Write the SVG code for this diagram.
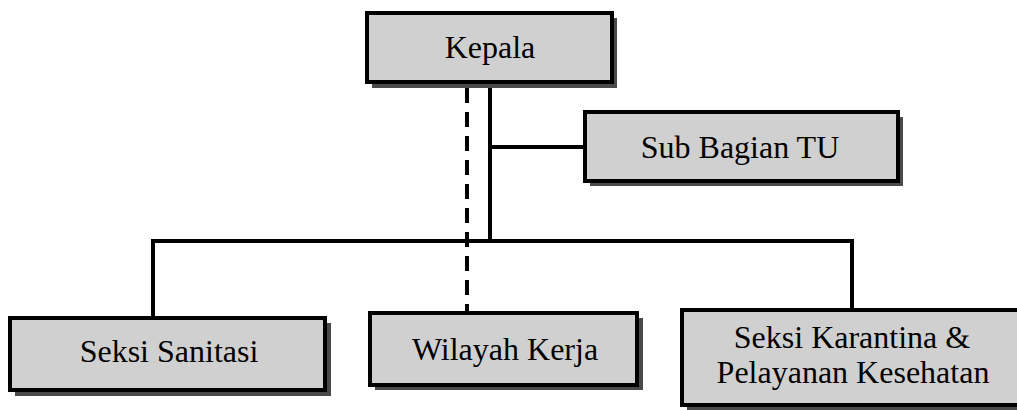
<svg xmlns="http://www.w3.org/2000/svg" width="1017" height="410" viewBox="0 0 1017 410">
<defs>
<style>
.box{fill:#d0d0d0;stroke:#000;stroke-width:4}
.shadow{fill:#4a4a4a}
.lbl{font-family:'Liberation Serif','Times New Roman',serif;font-size:32px;fill:#000;text-anchor:middle}
.ln{stroke:#000;stroke-width:4;fill:none}
.dash{stroke:#000;stroke-width:4;fill:none;stroke-dasharray:15 9}
</style>
</defs>
<rect width="1017" height="410" fill="#fff"/>
<g id="connectors">
<line class="ln" x1="490" y1="86" x2="490" y2="243"/>
<line class="ln" x1="490" y1="147" x2="587" y2="147"/>
<line class="ln" x1="151" y1="241" x2="854" y2="241"/>
<line class="ln" x1="153" y1="241" x2="153" y2="318"/>
<line class="ln" x1="852" y1="241" x2="852" y2="310"/>
<line class="dash" x1="467" y1="88" x2="467" y2="313"/>
</g>
<g id="kepala">
<rect class="shadow" x="372" y="18" width="245" height="70"/>
<rect class="box" x="367" y="13" width="245" height="69"/>
<text class="lbl" x="490" y="58">Kepala</text>
</g>
<g id="sub-bagian-tu">
<rect class="shadow" x="590" y="117" width="313" height="69"/>
<rect class="box" x="585" y="112" width="313" height="69"/>
<text class="lbl" x="740" y="158">Sub Bagian TU</text>
</g>
<g id="seksi-sanitasi">
<rect class="shadow" x="15" y="323" width="316" height="73"/>
<rect class="box" x="10" y="318" width="315" height="72"/>
<text class="lbl" x="169" y="362">Seksi Sanitasi</text>
</g>
<g id="wilayah-kerja">
<rect class="shadow" x="375" y="318" width="268" height="72"/>
<rect class="box" x="370" y="313" width="267" height="72"/>
<text class="lbl" x="505" y="360">Wilayah Kerja</text>
</g>
<g id="seksi-karantina">
<rect class="shadow" x="687" y="315" width="340" height="100"/>
<rect class="box" x="682" y="310" width="340" height="95"/>
<text class="lbl" x="852" y="348">Seksi Karantina &amp;</text>
<text class="lbl" x="853" y="383">Pelayanan Kesehatan</text>
</g>
</svg>
